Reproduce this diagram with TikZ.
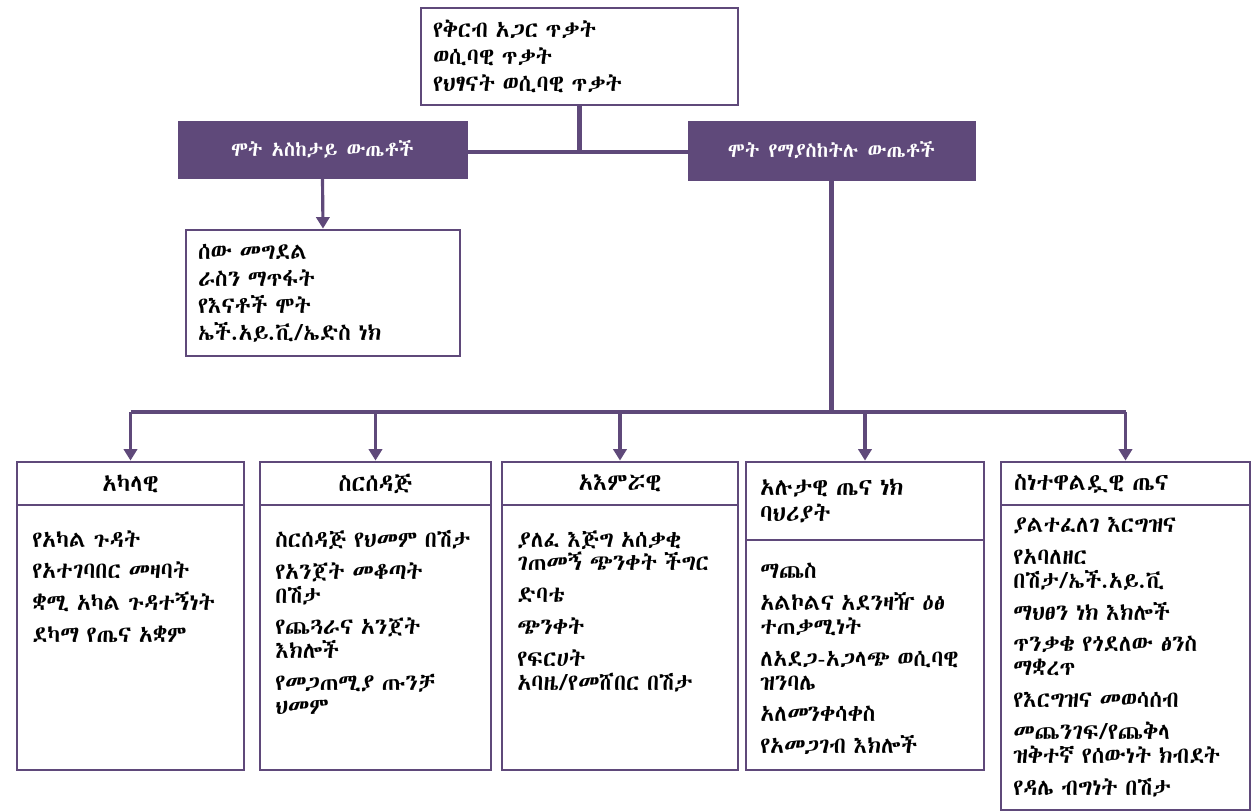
\documentclass[tikz,border=0pt]{standalone}
\usepackage{fontspec}
\usetikzlibrary{arrows.meta}
\newfontfamily\ethfont{Abyssinica SIL}
\definecolor{plum}{HTML}{5F497A}
\newlength\px
\setlength\px{0.02cm}
\tikzset{
  outbox/.style={draw=plum, line width=1.6pt, fill=white},
  darkbox/.style={fill=plum, draw=plum, text=white, font=\ethfont\fontsize{11.5}{14}\selectfont},
  hdbox/.style={outbox, font=\ethfont\fontsize{13.5}{14.8}\selectfont},
  listtext/.style={anchor=north west, inner xsep=0pt, inner ysep=0pt, align=left,
    font=\ethfont\fontsize{13}{13.6}\selectfont},
  bar/.style={draw=plum, line width=2.6pt},
  arr/.style={draw=plum, line width=1.8pt, -{Triangle[width=7.5pt,length=6.5pt]}},
}
\begin{document}
\begin{tikzpicture}[x=\px, y=-\px]
\useasboundingbox (0,0) rectangle (1252,812);

% top box
\node[outbox, minimum width=317\px, minimum height=97\px, text width=293\px, align=left,
  font=\ethfont\fontsize{13}{15.3}\selectfont] (vt) at (579.5,56.5)
  {የቅርብ አጋር ጥቃት\\ወሲባዊ ጥቃት\\የህፃናት ወሲባዊ ጥቃት};

% outcome boxes
\node[darkbox, minimum width=289\px, minimum height=57\px] (fo) at (322.5,149.5) {ሞት አስከታይ ውጤቶች};
\node[darkbox, minimum width=287\px, minimum height=59\px] (nf) at (831.5,150.5) {ሞት የማያስከትሉ ውጤቶች};

% fatal list
\node[outbox, minimum width=274\px, minimum height=126\px, text width=250\px, align=left,
  font=\ethfont\fontsize{13}{15.3}\selectfont] (fl) at (323,293)
  {ሰው መግደል\\ራስን ማጥፋት\\የእናቶች ሞት\\ኤች.አይ.ቪ/ኤድስ ነክ};

% column headers
\node[hdbox, minimum width=227\px, minimum height=43\px] (h1) at (130.5,483.5) {አካላዊ};
\node[hdbox, minimum width=231\px, minimum height=43\px] (h2) at (375.5,483.5) {ስርሰዳጅ};
\node[hdbox, minimum width=236\px, minimum height=43\px] (h3) at (620,483.5) {አእምሯዊ};
\node[hdbox, minimum width=238\px, minimum height=78\px, text width=210\px, align=left] (h4) at (865,501)
  {አሉታዊ ጤና ነክ\\ባህሪያት};
\node[hdbox, minimum width=249\px, minimum height=43\px, text width=223\px, align=left] (h5) at (1125.5,483.5)
  {ስነተዋልዷዊ ጤና};

% column bodies
\node[outbox, minimum width=227\px, minimum height=265\px] (b1) at (130.5,637.5) {};
\node[outbox, minimum width=231\px, minimum height=265\px] (b2) at (375.5,637.5) {};
\node[outbox, minimum width=236\px, minimum height=265\px] (b3) at (620,637.5) {};
\node[outbox, minimum width=238\px, minimum height=230\px] (b4) at (865,655) {};
\node[outbox, minimum width=249\px, minimum height=305\px] (b5) at (1125.5,657.5) {};

% column texts
\node[listtext, text width=205\px] (l1) at (32,530)
  {የአካል ጉዳት\\[4.5pt]የአተገባበር መዛባት\\[4.5pt]ቋሚ አካል ጉዳተኝነት\\[4.5pt]ደካማ የጤና አቋም};
\node[listtext, text width=212\px] (l2) at (275,530)
  {ስርሰዳጅ የህመም በሽታ\\[4.5pt]የአንጀት መቆጣት\\በሽታ\\[4.5pt]የጨጓራና አንጀት\\እክሎች\\[4.5pt]የመጋጠሚያ ጡንቻ\\ህመም};
\node[listtext, text width=218\px] (l3) at (517,530)
  {ያለፈ እጅግ አሰቃቂ\\ገጠመኝ ጭንቀት ችግር\\[4.5pt]ድባቴ\\[4.5pt]ጭንቀት\\[4.5pt]የፍርሀት\\አባዜ/የመሸበር በሽታ};
\node[listtext, text width=222\px] (l4) at (760,563)
  {ማጨስ\\[4.5pt]አልኮልና አደንዛዥ ዕፅ\\ተጠቃሚነት\\[4.5pt]ለአደጋ-አጋላጭ ወሲባዊ\\ዝንባሌ\\[4.5pt]አለመንቀሳቀስ\\[4.5pt]የአመጋገብ እክሎች};
\node[listtext, text width=234\px] (l5) at (1013,517)
  {ያልተፈለገ እርግዝና\\[4.5pt]የአባለዘር\\በሽታ/ኤች.አይ.ቪ\\[4.5pt]ማህፀን ነክ እክሎች\\[4.5pt]ጥንቃቄ የጎደለው ፅንስ\\ማቋረጥ\\[4.5pt]የእርግዝና መወሳሰብ\\[4.5pt]መጨንገፍ/የጨቅላ\\ዝቅተኛ የሰውነት ክብደት\\[4.5pt]የዳሌ ብግነት በሽታ};

% connectors
\coordinate (top) at (0,152);
\coordinate (bus) at (0,412);
\draw[bar] (vt.south) -- (vt.south |- top);
\draw[bar] (fo.east |- top) -- (nf.west |- top);
\draw[arr] (fo.south) -- (fl.north);
\draw[bar] (nf.south) -- (nf.south |- bus);
\draw[bar] (h1.north |- bus) -- (h5.north |- bus);
\foreach \h in {h1,h2,h3,h4,h5}
  \draw[arr] (\h.north |- bus) -- (\h.north);
\end{tikzpicture}
\end{document}
